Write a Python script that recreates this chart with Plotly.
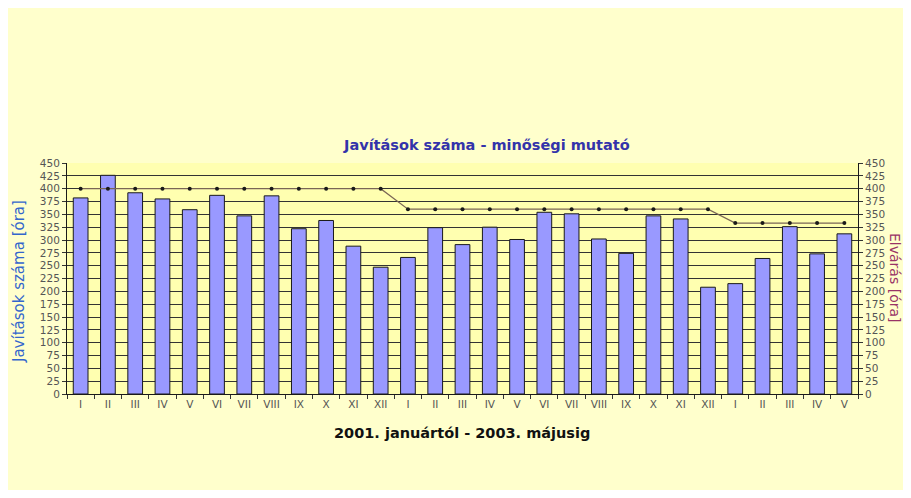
import plotly.graph_objects as go

months = ["I", "II", "III", "IV", "V", "VI", "VII", "VIII", "IX", "X", "XI", "XII",
          "I", "II", "III", "IV", "V", "VI", "VII", "VIII", "IX", "X", "XI", "XII",
          "I", "II", "III", "IV", "V"]
years = [2001] * 12 + [2002] * 12 + [2003] * 5
javitasok = [382, 426, 392, 380, 359, 387, 347, 386, 322, 338, 288, 247,
             266, 324, 291, 325, 301, 354, 351, 302, 274, 347, 341, 208,
             215, 264, 326, 273, 312]
elvaras = [400] * 12 + [360] * 12 + [333] * 5
y_ticks = list(range(0, 451, 25))

x_keys = [f"{y}-{m}" for y, m in zip(years, months)]

fig = go.Figure()
fig.add_trace(go.Bar(
    x=x_keys, y=javitasok, name="Javítások száma",
    marker=dict(color="#9999FF", line=dict(color="#1a1a1a", width=1)),
    yaxis="y"))
fig.add_trace(go.Scatter(
    x=x_keys, y=elvaras, name="Elvárás", mode="lines+markers",
    line=dict(color="#7a6656", width=1.2),
    marker=dict(color="#1a1a1a", size=4),
    yaxis="y2"))

FONT = "DejaVu Sans"
tickfont = dict(family=FONT, size=10.5, color="#555555")

# plot area in screenshot pixels: x 67..858, y 163..394 (page has 8px body margin)
def px(X):
    return (X - 67) / 791

def py(Y):
    return (394 - Y) / 231

fig.update_layout(
    width=895, height=482,
    margin=dict(l=59, r=45, t=155, b=96),
    paper_bgcolor="#FFFFCC",
    plot_bgcolor="#FFFFB0",
    showlegend=False,
    bargap=0.46,
    xaxis=dict(
        type="category", tickmode="array", tickvals=x_keys, ticktext=months,
        range=[-0.5, len(x_keys) - 0.5],
        tickson="boundaries", ticks="outside", ticklen=4, tickcolor="#333333",
        tickangle=0,
        showline=True, linecolor="#1a1a1a", linewidth=1,
        showgrid=False, tickfont=tickfont, zeroline=False,
    ),
    yaxis=dict(
        range=[0, 450], tickmode="array", tickvals=y_ticks,
        ticks="outside", ticklen=4, tickcolor="#333333",
        showline=True, linecolor="#1a1a1a", linewidth=1,
        showgrid=True, gridcolor="#333333", gridwidth=1,
        zeroline=False, tickfont=tickfont,
    ),
    yaxis2=dict(
        range=[0, 450], tickmode="array", tickvals=y_ticks,
        overlaying="y", side="right",
        ticks="outside", ticklen=4, tickcolor="#333333",
        showline=True, linecolor="#1a1a1a", linewidth=1,
        showgrid=False, zeroline=False, tickfont=tickfont,
    ),
    annotations=[
        dict(text="<b>Javítások száma - minőségi mutató</b>", xref="paper", yref="paper",
             x=px(486), y=py(145), showarrow=False,
             xanchor="center", yanchor="middle",
             font=dict(family=FONT, size=14.5, color="#3333AA")),
        dict(text="<b>2001. januártól - 2003. májusig</b>", xref="paper", yref="paper",
             x=px(462), y=py(433), showarrow=False,
             xanchor="center", yanchor="middle",
             font=dict(family=FONT, size=14.5, color="#111111")),
        dict(text="Javítások száma [óra]", xref="paper", yref="paper",
             x=px(19), y=py(282), showarrow=False,
             textangle=-90, xanchor="center", yanchor="middle",
             font=dict(family=FONT, size=15, color="#3366CC")),
        dict(text="Elvárás [óra]", xref="paper", yref="paper",
             x=px(895), y=py(278), showarrow=False,
             textangle=90, xanchor="center", yanchor="middle",
             font=dict(family=FONT, size=14, color="#993366")),
    ],
)

fig.write_html("out.html")
